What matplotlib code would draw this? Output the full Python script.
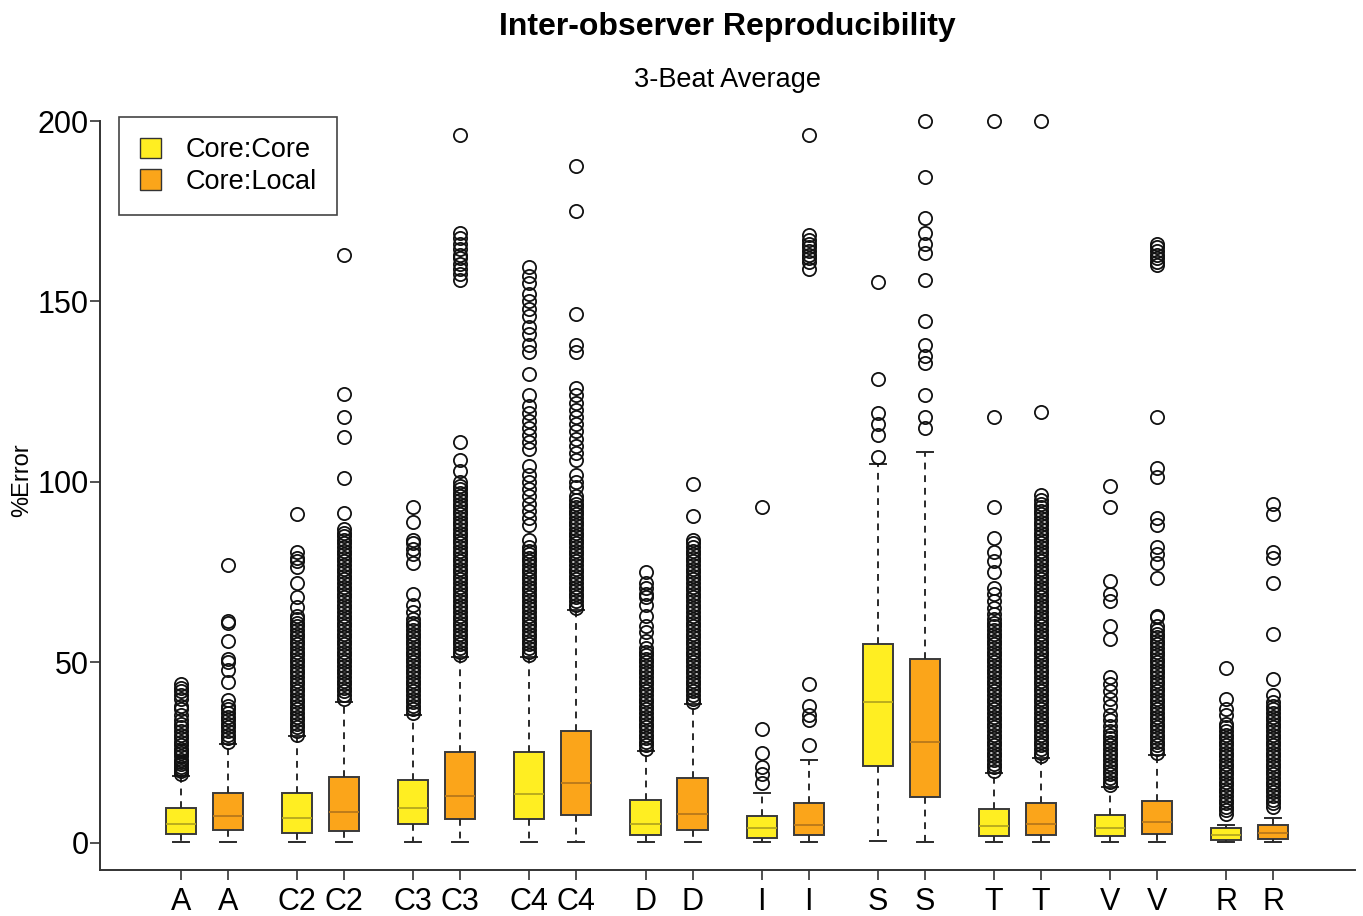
import matplotlib
matplotlib.use("Agg")
import matplotlib.pyplot as plt
from matplotlib.patches import Patch

plt.rcParams['font.family'] = ['Liberation Sans', 'DejaVu Sans']

# box order: A, C2, C3, C4, D, I, S, T, V, R -- each Core:Core then Core:Local
tick_labels = ['A', 'A', 'C2', 'C2', 'C3', 'C3', 'C4', 'C4', 'D', 'D',
               'I', 'I', 'S', 'S', 'T', 'T', 'V', 'V', 'R', 'R']
q1 = [2.6, 3.5, 2.7, 3.4, 5.2, 6.6, 6.6, 7.8, 2.2, 3.6,
      1.4, 2.2, 21.4, 12.6, 1.9, 2.2, 1.9, 2.5, 0.8, 1.1]
med = [5.2, 7.6, 6.8, 8.6, 9.8, 13.0, 13.6, 16.6, 5.3, 8.0,
       4.2, 5.0, 39.1, 27.9, 4.7, 5.3, 4.2, 5.8, 2.2, 2.8]
q3 = [9.6, 13.8, 13.9, 18.2, 17.5, 25.2, 25.2, 31.0, 11.9, 18.0,
      7.5, 11.0, 55.0, 50.9, 9.3, 11.2, 7.8, 11.6, 4.2, 5.0]
whis_lo = [0.2, 0.2, 0.2, 0.2, 0.2, 0.2, 0.2, 0.2, 0.2, 0.2,
           0.2, 0.2, 0.6, 0.2, 0.2, 0.2, 0.2, 0.2, 0.2, 0.2]
whis_hi = [18.5, 27.5, 29.5, 39.0, 35.5, 51.5, 51.5, 64.5, 25.5, 38.5,
           13.9, 23.0, 105.0, 108.2, 19.5, 23.5, 15.5, 24.5, 5.0, 7.0]

# outliers (dense bands typed at ~1 unit spacing)
fl_A_cc = [19, 20, 20.5, 21, 22, 22.5, 23, 24, 25, 25.5, 26, 27, 28, 29, 30, 31,
           32, 33, 34, 35.5, 37, 38, 40, 41, 42, 43, 44]
fl_A_cl = [28, 29, 30, 31, 32, 33, 34, 35, 36, 37, 38, 39.5, 44.5, 48, 50, 51,
           56, 61, 61.5, 77]
fl_C2_cc = [30, 31, 32, 33, 34, 35, 36, 37, 38, 39, 40, 41, 42, 43, 44, 45, 46,
            47, 48, 49, 50, 51, 52, 53, 54, 55, 56, 57, 58, 59, 60, 61, 62, 63,
            65.5, 68, 72, 76.5, 78, 79, 80.5, 91]
fl_C2_cl = [40, 41, 42, 43, 44, 45, 46, 47, 48, 49, 50, 51, 52, 53, 54, 55, 56,
            57, 58, 59, 60, 61, 62, 63, 64, 65, 66, 67, 68, 69, 70, 71, 72, 73,
            74, 75, 76, 77, 78, 79, 80, 81, 82, 83, 84, 85, 86, 87, 91.5, 101,
            112.5, 118, 124.5, 163]
fl_C3_cc = [36, 37, 38, 39, 40, 41, 42, 43, 44, 45, 46, 47, 48, 49, 50, 51, 52,
            53, 54, 55, 56, 57, 58, 59, 60, 61, 62, 64, 66, 69, 77.5, 80, 81.5,
            83, 84, 89, 93]
fl_C3_cl = [52, 53, 54, 55, 56, 57, 58, 59, 60, 61, 62, 63, 64, 65, 66, 67, 68,
            69, 70, 71, 72, 73, 74, 75, 76, 77, 78, 79, 80, 81, 82, 83, 84, 85,
            86, 87, 88, 89, 90, 91, 92, 93, 94, 95, 96, 97, 98, 99, 100, 103,
            106, 111, 156, 157.5, 159, 160.5, 162, 163, 164.5, 166, 167.5, 169,
            196]
fl_C4_cc = [52, 53, 54, 55, 56, 57, 58, 59, 60, 61, 62, 63, 64, 65, 66, 67, 68,
            69, 70, 71, 72, 73, 74, 75, 76, 77, 78, 79, 80, 81, 82, 84, 88, 90,
            92, 94, 96, 98, 100, 102, 104.5, 109, 111, 113, 115, 117, 119, 121,
            124, 130, 136, 138, 141, 143, 146, 148, 150, 152, 155, 157, 159.5]
fl_C4_cl = [65, 66, 67, 68, 69, 70, 71, 72, 73, 74, 75, 76, 77, 78, 79, 80, 81,
            82, 83, 84, 85, 86, 87, 88, 89, 90, 91, 92, 93, 94, 95, 96, 98.5,
            100, 102, 106, 108, 110, 112, 114, 116, 118, 120, 122, 124, 126,
            136, 138, 146.5, 175, 187.5]
fl_D_cc = [26, 27, 28, 29, 30, 31, 32, 33, 34, 35, 36, 37, 38, 39, 40, 41, 42,
           43, 44, 45, 46, 47, 48, 49, 50, 51, 52, 53, 54, 56, 58.5, 60, 63, 66,
           68, 69, 70.5, 72, 75]
fl_D_cl = [39, 40, 41, 42, 43, 44, 45, 46, 47, 48, 49, 50, 51, 52, 53, 54, 55,
           56, 57, 58, 59, 60, 61, 62, 63, 64, 65, 66, 67, 68, 69, 70, 71, 72,
           73, 74, 75, 76, 77, 78, 79, 80, 81, 82, 83, 84, 90.5, 99.5]
fl_I_cc = [16.5, 19, 21, 25, 31.5, 93]
fl_I_cl = [27, 34, 35.5, 38, 44, 159, 161, 162, 163, 164, 165, 166, 167, 168.5,
           196]
fl_S_cc = [107, 113, 116, 119, 128.5, 155.5]
fl_S_cl = [115, 118, 124, 133, 135, 138, 144.5, 156, 163.5, 166, 169, 173,
           184.5, 200]
fl_T_cc = [20, 21, 22, 23, 24, 25, 26, 27, 28, 29, 30, 31, 32, 33, 34, 35, 36,
           37, 38, 39, 40, 41, 42, 43, 44, 45, 46, 47, 48, 49, 50, 51, 52, 53,
           54, 55, 56, 57, 58, 59, 60, 61, 62, 63.5, 65, 67, 69, 70.5, 75, 78,
           80.5, 84.5, 93, 118, 200]
fl_T_cl = [24, 25, 26, 27, 28, 29, 30, 31, 32, 33, 34, 35, 36, 37, 38, 39, 40,
           41, 42, 43, 44, 45, 46, 47, 48, 49, 50, 51, 52, 53, 54, 55, 56, 57,
           58, 59, 60, 61, 62, 63, 64, 65, 66, 67, 68, 69, 70, 71, 72, 73, 74,
           75, 76, 77, 78, 79, 80, 81, 82, 83, 84, 85, 86, 87, 88, 89, 90, 91,
           92, 93, 94, 95, 96.5, 119.5, 200]
fl_V_cc = [16, 17, 18, 19, 20, 21, 22, 23, 24, 25, 26, 27, 28, 29, 30, 31, 32.5,
           34, 35.5, 38, 40, 42, 44, 46, 56.5, 60, 67, 69, 72.5, 93, 99]
fl_V_cl = [25, 26, 27, 28, 29, 30, 31, 32, 33, 34, 35, 36, 37, 38, 39, 40, 41,
           42, 43, 44, 45, 46, 47, 48, 49, 50, 51, 52, 53, 54, 55, 56, 57, 58,
           59, 60, 62.5, 63, 73.5, 77.5, 80, 82, 88, 90, 101.5, 104, 118, 160,
           161, 162, 163, 164, 165, 166]
fl_R_cc = [8, 9, 10, 11, 12, 13, 14, 15, 16, 17, 18, 19, 20, 21, 22, 23, 24, 25,
           26, 27, 28, 29, 30, 31, 32, 33, 35.5, 37, 40, 48.5]
fl_R_cl = [10, 11, 12, 13, 14, 15, 16, 17, 18, 19, 20, 21, 22, 23, 24, 25, 26,
           27, 28, 29, 30, 31, 32, 33, 34, 35, 36, 37, 38, 39, 41, 45.5, 58, 72,
           79, 80.5, 91, 94]

fliers = [fl_A_cc, fl_A_cl, fl_C2_cc, fl_C2_cl, fl_C3_cc, fl_C3_cl,
          fl_C4_cc, fl_C4_cl, fl_D_cc, fl_D_cl, fl_I_cc, fl_I_cl,
          fl_S_cc, fl_S_cl, fl_T_cc, fl_T_cl, fl_V_cc, fl_V_cl,
          fl_R_cc, fl_R_cl]

yellow = '#FFEE22'
orange = '#FBA51A'
med_yellow = '#B5A81E'
med_orange = '#B8781A'

stats = []
for i in range(len(tick_labels)):
    stats.append(dict(label=tick_labels[i], q1=q1[i], med=med[i], q3=q3[i],
                      whislo=whis_lo[i], whishi=whis_hi[i], fliers=fliers[i]))

positions = [2.47 * (i // 2) + (i % 2) for i in range(len(stats))]

fig = plt.figure(figsize=(13.63, 9.16), dpi=100)
ax = fig.add_axes([0.0734, 0.0502, 0.9208, 0.8177])

bp = ax.bxp(stats, positions=positions, widths=0.64, capwidths=0.34,
            patch_artist=True, showfliers=True,
            boxprops=dict(edgecolor='#3a3a3a', linewidth=1.4),
            whiskerprops=dict(color='#2a2a2a', linewidth=1.4,
                              linestyle=(0, (3.5, 3))),
            capprops=dict(color='#2a2a2a', linewidth=1.4),
            medianprops=dict(linewidth=1.3),
            flierprops=dict(marker='o', markersize=9.5, markerfacecolor='none',
                            markeredgecolor='#111111', markeredgewidth=1.3,
                            clip_on=False))

for i, box in enumerate(bp['boxes']):
    box.set_facecolor(yellow if i % 2 == 0 else orange)
    bp['medians'][i].set_color(med_yellow if i % 2 == 0 else med_orange)

ax.set_xlim(-1.72, 24.97)
ax.set_ylim(-7.5, 200)
ax.set_yticks([0, 50, 100, 150, 200])
ax.set_xticks(positions)
ax.set_xticklabels(tick_labels)
ax.spines['top'].set_visible(False)
ax.spines['right'].set_visible(False)
for s in ['left', 'bottom']:
    ax.spines[s].set_color('#333333')
    ax.spines[s].set_linewidth(1.4)
ax.tick_params(axis='both', length=7, width=1.2, color='#333333',
               labelsize=22)
ax.tick_params(axis='y', pad=1)
ax.tick_params(axis='x', pad=5)

handles = [Patch(facecolor=yellow, edgecolor='#333333', label='Core:Core'),
           Patch(facecolor=orange, edgecolor='#333333', label='Core:Local')]
leg = ax.legend(handles=handles, loc='upper left', bbox_to_anchor=(0.009, 1.016),
                fontsize=19.5, fancybox=False, framealpha=1, edgecolor='#444444',
                handlelength=0.8, handleheight=0.8, borderpad=0.75,
                handletextpad=0.9, labelspacing=0.2, borderaxespad=0.3)
leg.get_frame().set_linewidth(1.2)

fig.text(0.5334, 0.9705, 'Inter-observer Reproducibility', ha='center',
         va='center', fontsize=23, fontweight='bold')
fig.text(0.5334, 0.9127, '3-Beat Average', ha='center', va='center',
         fontsize=19.5)
fig.text(0.016, 0.476, '%Error', rotation=90, ha='center', va='center',
         fontsize=17)

fig.savefig('out.png', dpi=100)
